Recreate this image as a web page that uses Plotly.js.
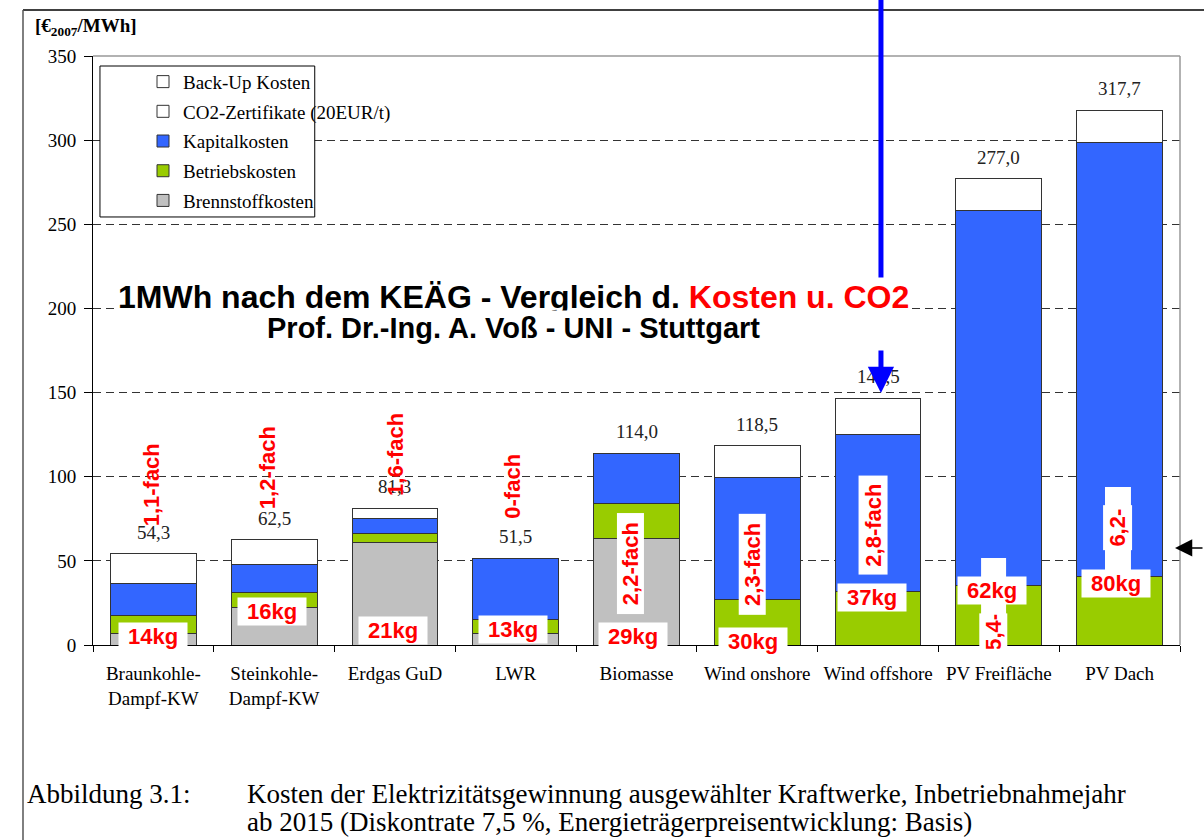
<!DOCTYPE html>
<html>
<head>
<meta charset="utf-8">
<script src="https://cdn.plot.ly/plotly-3.0.1.min.js"></script>
<style>
  body { margin: 0; background: #fff; }
  #chart { width: 1204px; height: 840px; }
</style>
</head>
<body>
<div id="chart"></div>
<script>
// Kraftwerkstypen (x-Achse)
const kategorien = ['Braunkohle-<br>Dampf-KW', 'Steinkohle-<br>Dampf-KW', 'Erdgas GuD', 'LWR', 'Biomasse',
  'Wind onshore', 'Wind offshore', 'PV Freifläche', 'PV Dach'];

// Kosten in €2007/MWh, von unten nach oben gestapelt
const brennstoff = [7.0, 22.4, 61.0, 6.9, 63.3, null, null, null, null];
const betrieb = [10.4, 8.6, 5.0, 8.3, 20.5, 27.1, 31.8, 35.3, 41.0];
const kapital = [19.4, 16.6, 9.0, 36.3, 30.2, 72.7, 93.3, 222.6, 257.6];
const co2zert = [17.5, 14.9, 6.3, null, null, null, null, null, null];
const backup = [null, null, null, null, null, 18.7, 21.4, 19.1, 19.1];

// rote Beschriftungen: CO2 je MWh und Kostenfaktor
const co2kg = ['14kg', '16kg', '21kg', '13kg', '29kg', '30kg', '37kg', '62kg', '80kg'];
const faktor = ['1,1-fach', '1,2-fach', '1,6-fach', '0-fach', '2,2-fach', '2,3-fach', '2,8-fach', '5,4-', '6,2-'];

// Summe pro Balken
const summe = kategorien.map((k, i) =>
  [brennstoff, betrieb, kapital, co2zert, backup].reduce((s, r) => s + (r[i] || 0), 0));

const serif = 'Liberation Serif, Times New Roman, serif';
const sans = 'Liberation Sans, Arial, sans-serif';
const rot = '#ff0000';

// Hilfsfunktion fuer einen Balkenstapel (rang = Platz in der Legende)
const balken = (name, werte, farbe, rang) => ({
  type: 'bar',
  name: name,
  x: kategorien,
  y: werte,
  legendgroup: name,
  legendrank: rang,
  marker: { color: farbe, line: { color: '#333', width: 1 } },
  hovertemplate: '%{y:.1f}<extra>' + name + '</extra>'
});

const data = [
  balken('Brennstoffkosten', brennstoff, '#c0c0c0', 5),
  balken('Betriebskosten', betrieb, '#99cc00', 4),
  balken('Kapitalkosten', kapital, '#3366ff', 3),
  balken('CO2-Zertifikate (20EUR/t)', co2zert, '#ffffff', 2),
  balken('Back-Up Kosten', backup, '#ffffff', 1)
];

// Lage der roten Texte (Pixelversatz x, Hoehe in Achseinheiten)
const faktorLage = [
  { dx: -1, y: 95.1 }, { dx: -6, y: 105.2 }, { dx: 0, y: 113.5 }, { dx: -3, y: 94.5 },
  { dx: -6, y: 48.1, w: 98, h: 24 }, { dx: -5, y: 48.1, w: 98, h: 24 }, { dx: -5, y: 71.3, w: 96, h: 26 },
  { dx: -6, y: 7.7, w: 34, h: 25 }, { dx: -2, y: 69.5, w: 42, h: 26 }
];
const kgLage = [[0, 5.3], [-2, 20.2], [-2, 8.9], [-3, 9.5], [-4, 4.8], [-4, 1.8], [-6, 28.2], [-7, 32.1], [-4, 36.5]];

const annotations = [];

// Summen ueber den Balken
summe.forEach((s, i) => {
  annotations.push({
    x: i, y: s, xref: 'x', yref: 'y', yanchor: 'bottom', yshift: 9,
    text: s.toFixed(1).replace('.', ','), showarrow: false,
    font: { family: serif, size: 19, color: '#222' }
  });
});

// Faktoren (senkrecht)
faktor.forEach((t, i) => {
  const l = faktorLage[i];
  const a = {
    x: i, y: l.y, xref: 'x', yref: 'y', xshift: l.dx, textangle: -90,
    text: '<b>' + t + '</b>', showarrow: false,
    font: { family: sans, size: 22, color: rot }
  };
  if (l.w) { a.bgcolor = '#fff'; a.width = l.w; a.height = l.h; }
  annotations.push(a);
});

// CO2 in kg
co2kg.forEach((t, i) => {
  annotations.push({
    x: i, y: kgLage[i][1], xref: 'x', yref: 'y', xshift: kgLage[i][0],
    text: '<b>' + t + '</b>', showarrow: false, bgcolor: '#fff', width: 66, height: 25,
    font: { family: sans, size: 22, color: rot }
  });
});

// Ueberschrift im Diagramm
annotations.push({
  xref: 'paper', yref: 'paper', x: 0.3873, y: 0.5908, xanchor: 'center', yanchor: 'middle',
  showarrow: false, bgcolor: '#fff',
  text: '<b>1MWh nach dem KEÄG - Vergleich d. <span style="color:#ff0000">Kosten u. CO2</span></b>',
  font: { family: sans, size: 32, color: '#000' }
});
annotations.push({
  xref: 'paper', yref: 'paper', x: 0.3873, y: 0.5382, xanchor: 'center', yanchor: 'middle',
  showarrow: false, bgcolor: '#fff',
  text: '<b>Prof. Dr.-Ing. A. Voß - UNI - Stuttgart</b>',
  font: { family: sans, size: 29, color: '#000' }
});

// Einheit oben links
annotations.push({
  xref: 'paper', yref: 'paper', x: -0.0552, y: 1.049, xanchor: 'left', yanchor: 'middle', showarrow: false,
  text: '<b>[€<sub>2007</sub>/MWh]</b>', font: { family: serif, size: 19, color: '#000' }
});

// Bildunterschrift
annotations.push({
  xref: 'paper', yref: 'paper', x: -0.0626, y: -0.253, xanchor: 'left', yanchor: 'middle', showarrow: false,
  text: 'Abbildung 3.1:', font: { family: serif, size: 27, color: '#000' }
});
annotations.push({
  xref: 'paper', yref: 'paper', x: 0.1398, y: -0.253, xanchor: 'left', yanchor: 'middle', showarrow: false,
  text: 'Kosten der Elektrizitätsgewinnung ausgewählter Kraftwerke, Inbetriebnahmejahr',
  font: { family: serif, size: 27, color: '#000' }
});
annotations.push({
  xref: 'paper', yref: 'paper', x: 0.1398, y: -0.301, xanchor: 'left', yanchor: 'middle', showarrow: false,
  text: 'ab 2015 (Diskontrate 7,5 %, Energieträgerpreisentwicklung: Basis)',
  font: { family: serif, size: 27, color: '#000' }
});

// Pfeile
annotations.push({
  xref: 'paper', yref: 'paper', x: 0.7249, y: 0.4278, ax: 0, ay: -44, text: '',
  showarrow: true, arrowhead: 2, arrowsize: 1.05, arrowwidth: 5, arrowcolor: '#0000ff'
});
annotations.push({
  xref: 'paper', yref: 'paper', x: 0.9954, y: 0.1647, ax: 45, ay: 0, text: '',
  showarrow: true, arrowhead: 2, arrowsize: 2.3, arrowwidth: 1.5, arrowcolor: '#000'
});

const shapes = [
  // Legendenrahmen
  { type: 'rect', xref: 'paper', yref: 'paper', x0: 0.0064, x1: 0.204, y0: 0.7267, y1: 0.983,
    line: { color: '#000', width: 1 }, fillcolor: '#fff', layer: 'above' },
  // weisse Streifen hinter 5,4- und 6,2-
  { type: 'rect', xref: 'x', yref: 'y', x0: 6.853, x1: 7.06, y0: 0, y1: 51.7,
    line: { width: 0 }, fillcolor: '#fff', layer: 'above' },
  { type: 'rect', xref: 'x', yref: 'y', x0: 7.879, x1: 8.094, y0: 43.4, y1: 93.9,
    line: { width: 0 }, fillcolor: '#fff', layer: 'above' },
  // Rahmen oben und rechts
  { type: 'line', xref: 'paper', yref: 'paper', x0: 0, x1: 1, y0: 1, y1: 1,
    line: { color: '#999', width: 1.5 }, layer: 'above' },
  { type: 'line', xref: 'paper', yref: 'paper', x0: 1, x1: 1, y0: 0, y1: 1,
    line: { color: '#999', width: 1.5 }, layer: 'above' },
  // Seitenrahmen
  { type: 'line', xref: 'paper', yref: 'paper', x0: -0.0644, x1: 1.03, y0: 1.078, y1: 1.078,
    line: { color: '#000', width: 1.5 } },
  { type: 'line', xref: 'paper', yref: 'paper', x0: -0.0644, x1: -0.0644, y0: -0.34, y1: 1.078,
    line: { color: '#555', width: 1.5 } },
  // blaue Linie von oben
  { type: 'line', xref: 'paper', yref: 'paper', x0: 0.7249, x1: 0.7249, y0: 0.6112, y1: 1.1,
    line: { color: '#0000ff', width: 5 }, layer: 'above' }
];

const layout = {
  width: 1204,
  height: 840,
  margin: { l: 93, r: 24, t: 56, b: 195 },
  paper_bgcolor: '#fff',
  plot_bgcolor: '#fff',
  barmode: 'stack',
  bargap: 0.29,
  font: { family: serif, size: 19, color: '#000' },
  showlegend: true,
  legend: {
    x: 0.046, y: 0.9885, xanchor: 'left', yanchor: 'top',
    traceorder: 'grouped', tracegroupgap: 2,
    bgcolor: 'rgba(0,0,0,0)', borderwidth: 0,
    font: { family: serif, size: 19, color: '#000' }
  },
  xaxis: {
    type: 'category',
    showline: true, linecolor: '#000', linewidth: 1,
    ticks: 'outside', tickson: 'boundaries', ticklen: 6, tickcolor: '#000',
    ticklabelstandoff: 11,
    tickfont: { family: serif, size: 19, color: '#000' },
    showgrid: false, zeroline: false, fixedrange: true
  },
  yaxis: {
    range: [0, 350],
    tickvals: [0, 50, 100, 150, 200, 250, 300, 350],
    showline: true, linecolor: '#000', linewidth: 1,
    ticks: 'outside', ticklen: 8, tickcolor: '#000',
    ticklabelstandoff: 4,
    tickfont: { family: serif, size: 19, color: '#000' },
    showgrid: true, gridcolor: '#333', gridwidth: 1, griddash: '8px,5px',
    zeroline: false, fixedrange: true
  },
  annotations: annotations,
  shapes: shapes
};

Plotly.newPlot('chart', data, layout, { displayModeBar: false, staticPlot: true });
</script>
</body>
</html>
